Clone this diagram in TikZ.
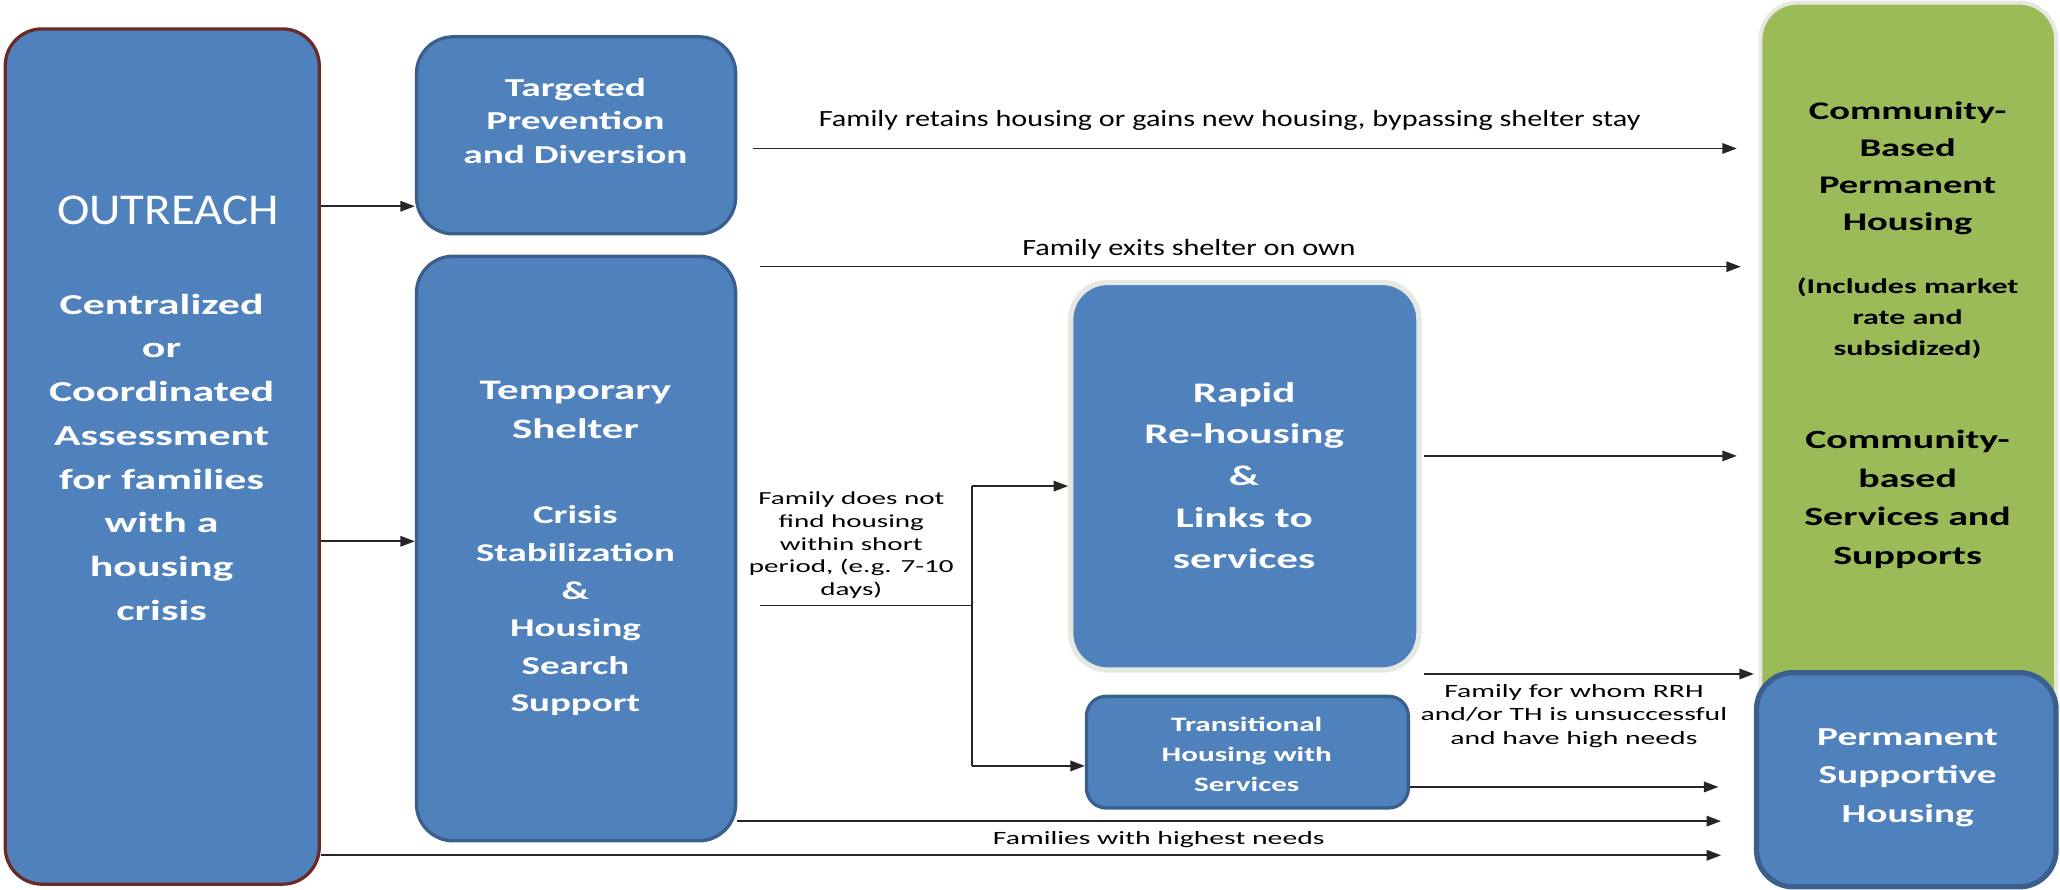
\documentclass[tikz,border=0pt]{standalone}
\usepackage{fontspec}
\setmainfont{Carlito}[FakeStretch=1.3]
\newfontfamily\bfam{Carlito}[FakeStretch=1.52]
\newfontfamily\ofam{Carlito}[FakeStretch=1.11]
\newfontfamily\sfam{Carlito}[FakeStretch=1.58]
\usetikzlibrary{arrows.meta}
\definecolor{boxblue}{HTML}{4F81BD}
\definecolor{boxedge}{HTML}{3B5F8C}
\definecolor{outedge}{HTML}{6B2A28}
\definecolor{grnfill}{HTML}{9BBB59}
\definecolor{lightedge}{HTML}{E6E8E2}
\begin{document}
\begin{tikzpicture}[x=1pt,y=1pt,
  blbox/.style={draw=boxedge,line width=2.5pt,fill=boxblue,rounded corners=28pt,inner sep=0pt},
  wt/.style={text=white,align=center,inner sep=0pt},
  bk/.style={text=black,align=center,inner sep=0pt},
  arr/.style={line width=1.2pt,draw=black!85,-{Triangle[length=11pt,width=8pt]}},
  ln/.style={line width=1.2pt,draw=black!85}]
\useasboundingbox (0,0) rectangle (1568,-677);
% boxes
\node[blbox,draw=outedge,minimum width=239pt,minimum height=651pt] (out) at (123.5,-347.5) {};
\node[blbox,minimum width=243pt,minimum height=150pt] (tpd) at (438.5,-103) {};
\node[blbox,minimum width=243pt,minimum height=445pt] (tmp) at (438.5,-417.5) {};
\node[blbox,draw=lightedge,line width=4pt,minimum width=265pt,minimum height=295pt] (rrh) at (947.5,-362.5) {};
\node[blbox,rounded corners=15pt,minimum width=245pt,minimum height=85pt] (th) at (949.5,-572.5) {};
\node[draw=lightedge,line width=3pt,fill=grnfill,rounded corners=28pt,minimum width=225pt,minimum height=618pt,inner sep=0pt] (grn) at (1452.5,-311) {};
\node[blbox,line width=4pt,minimum width=228pt,minimum height=163pt] (psh) at (1451,-593.5) {};
% texts in boxes
\node[wt,font=\ofam\fontsize{33.5}{40}\selectfont] (tout) at (128,-160) {OUTREACH};
\node[wt,font=\bfam\bfseries\fontsize{22}{33.3}\selectfont] (tcen) at (123,-348) {Centralized\\or\\Coordinated\\Assessment\\for families\\with a\\housing\\crisis};
\node[wt,font=\bfam\bfseries\fontsize{19.7}{25.5}\selectfont] (ttpd) at (438,-92) {Targeted\\Prevention\\and Diversion};
\node[wt,font=\bfam\bfseries\fontsize{21.5}{30}\selectfont] (ttmp) at (438,-312) {Temporary\\Shelter};
\node[wt,font=\bfam\bfseries\fontsize{19.5}{28.6}\selectfont] (tcri) at (438,-465) {Crisis\\Stabilization\\\&\\Housing\\Search\\Support};
\node[wt,font=\bfam\bfseries\fontsize{21.6}{31.75}\selectfont] (trrh) at (947,-362) {Rapid\\Re-housing\\\&\\Links to\\services};
\node[wt,font=\bfam\bfseries\fontsize{15.6}{23}\selectfont] (tth) at (949,-574) {Transitional\\Housing with\\Services};
\node[bk,font=\bfam\bfseries\fontsize{19.3}{28.3}\selectfont] (tg1) at (1452,-128) {Community-\\Based\\Permanent\\Housing};
\node[bk,font=\bfam\bfseries\fontsize{16}{23.5}\selectfont] (tg2) at (1452,-242) {(Includes market\\rate and\\subsidized)};
\node[bk,font=\bfam\bfseries\fontsize{20}{29.3}\selectfont] (tg3) at (1452,-380) {Community-\\based\\Services and\\Supports};
\node[wt,font=\bfam\bfseries\fontsize{19.7}{29}\selectfont] (tpsh) at (1452,-592) {Permanent\\Supportive\\Housing};
% level coordinates
\coordinate (yA) at (0,-157);
\coordinate (yB) at (0,-412);
\coordinate (yC) at (0,-113);
\coordinate (yD) at (0,-203);
\coordinate (yE) at (0,-461);
\coordinate (yF) at (0,-370);
\coordinate (yG) at (0,-583);
\coordinate (yH) at (0,-347);
\coordinate (yI) at (0,-513);
\coordinate (yJ) at (0,-599);
\coordinate (yK) at (0,-625);
\coordinate (yL) at (0,-651);
\coordinate (sx) at (740,0);
\coordinate (ex) at (1322,0);
% connectors
\draw[arr] (out.east |- yA) -- (tpd.west |- yA);
\draw[arr] (out.east |- yB) -- (tmp.west |- yB);
\draw[arr] ([xshift=12pt]tpd.east |- yC) -- (ex |- yC);
\draw[arr] ([xshift=17pt]tmp.east |- yD) -- ([xshift=3pt]ex |- yD);
\draw[ln] ([xshift=17pt]tmp.east |- yE) -- (sx |- yE);
\draw[ln] (sx |- yF) -- (sx |- yG);
\draw[arr] (sx |- yF) -- (rrh.west |- yF);
\draw[arr] (sx |- yG) -- (th.west |- yG);
\draw[arr] ([xshift=2pt]rrh.east |- yH) -- (ex |- yH);
\draw[arr] ([xshift=2pt]rrh.east |- yI) -- ([xshift=13pt]ex |- yI);
\draw[arr] (th.east |- yJ) -- ([xshift=-14pt]ex |- yJ);
\draw[arr] (tmp.east |- yK) -- ([xshift=-12pt]ex |- yK);
\draw[arr] (out.east |- yL) -- ([xshift=-12pt]ex |- yL);
% labels
\node[bk,font=\fontsize{17.7}{21}\selectfont] (l1) at (936,-92) {Family retains housing or gains new housing, bypassing shelter stay};
\node[bk,font=\fontsize{17.7}{21}\selectfont] (l2) at (905,-190) {Family exits shelter on own};
\node[bk,font=\sfam\fontsize{14}{17.3}\selectfont] (l3) at (648,-415) {Family does not\\find housing\\within short\\period, (e.g. 7-10\\days)};
\node[bk,font=\sfam\fontsize{14.3}{18}\selectfont] (l4) at (1198,-545) {Family for whom RRH\\and/or TH is unsuccessful\\and have high needs};
\node[bk,font=\sfam\fontsize{14.3}{18}\selectfont] (l5) at (882,-639) {Families with highest needs};
\end{tikzpicture}
\end{document}
